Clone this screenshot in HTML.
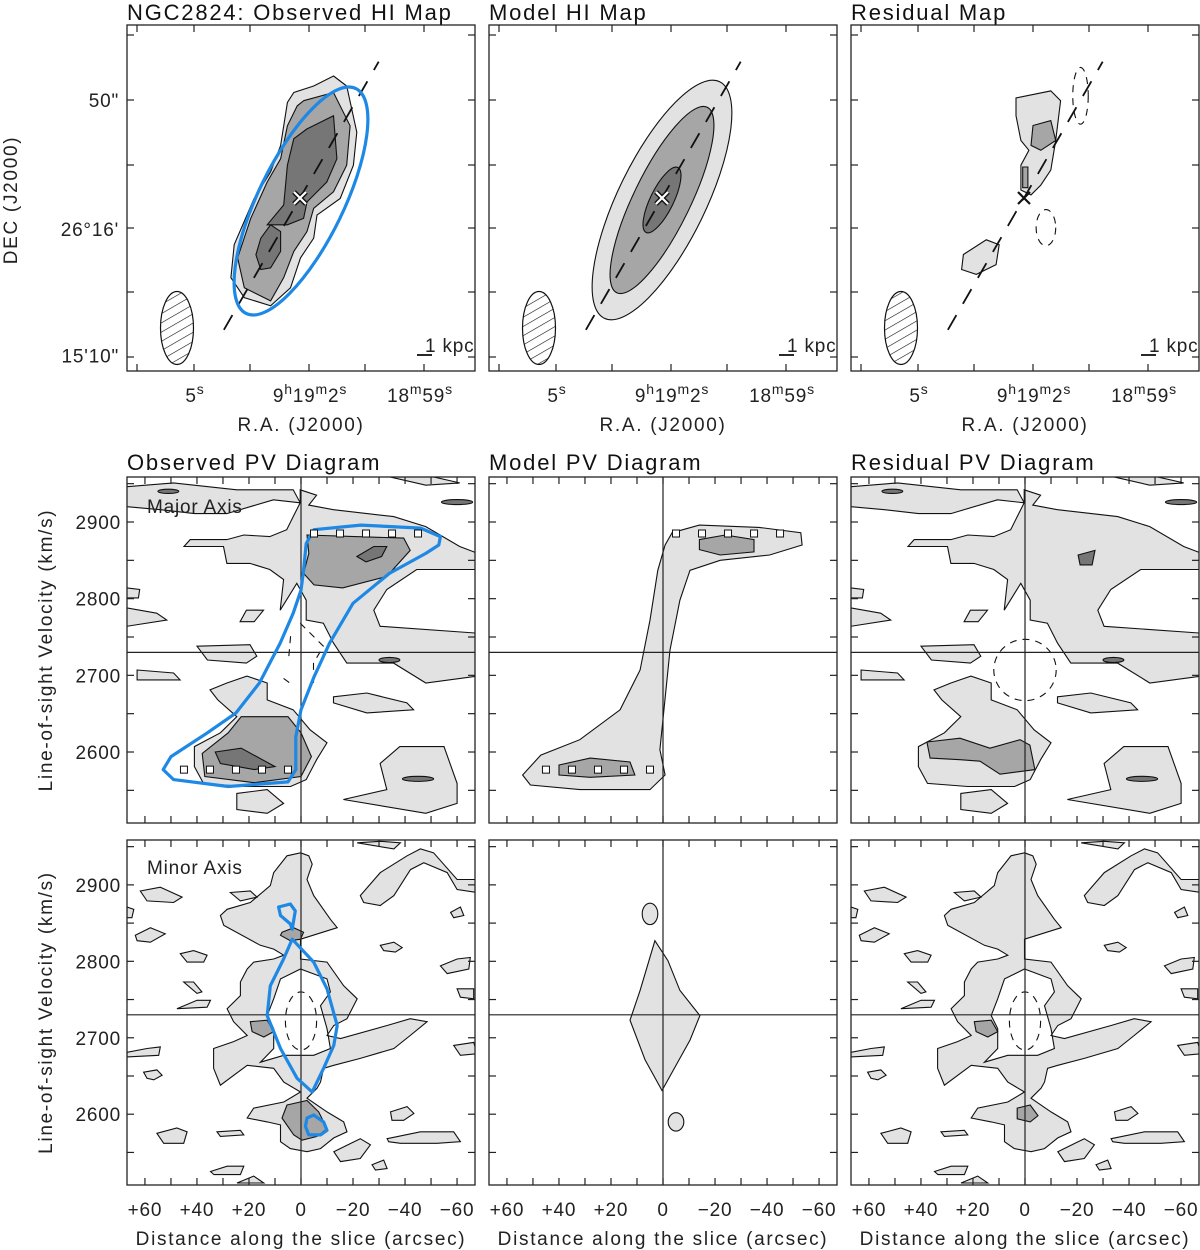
<!DOCTYPE html>
<html><head><meta charset="utf-8">
<style>
html,body{margin:0;padding:0;background:#fff;}
svg{display:block;font-family:"Liberation Sans",sans-serif;}
.t{font-size:22px;fill:#111;letter-spacing:1.8px;}
.tk{font-size:19px;fill:#222;letter-spacing:0.8px;}
.lab{font-size:19px;fill:#222;letter-spacing:1.7px;}
.c1{fill:#e2e2e2;stroke:#111;stroke-width:1.1;}
.c2{fill:#a6a6a6;stroke:#111;stroke-width:1.1;}
.c3{fill:#767676;stroke:#111;stroke-width:1.1;}
.neg{fill:none;stroke:#111;stroke-width:1.1;stroke-dasharray:7 6;}
.blue{fill:none;stroke:#1e88e5;stroke-width:3.2;stroke-linejoin:round;}
</style></head>
<body>
<svg id="fig" width="1200" height="1250" viewBox="0 0 1200 1250" xmlns="http://www.w3.org/2000/svg">
<defs>
<pattern id="hatch" width="8" height="8" patternUnits="userSpaceOnUse" patternTransform="rotate(-30)">
<line x1="0" y1="0" x2="8" y2="0" stroke="#111" stroke-width="1.2"/></pattern>
</defs>
</svg>
<script>
// ---------- axis data ----------
const pvTickLabels = ["+60","+40","+20","0","\u221220","\u221240","\u221260"];
const pvTickValues = [60,40,20,0,-20,-40,-60];
const velTickValues = [2600,2700,2800,2900];
const vSys = 2730;
const pvDistRange = [66.9,-66.9];
const pvVelRange = [2958.7,2507.4];
const mapTitles = ["NGC2824: Observed HI Map","Model HI Map","Residual Map"];
const pvTitles = ["Observed PV Diagram","Model PV Diagram","Residual PV Diagram"];
const decTickLabels = ["50\"","26\u00b016'","15'10\""];
const decTickValues = [38,-12,-61];

// ---------- major-axis PV contours [dist arcsec, vel km/s] ----------
const majLight = [
 [[0.3,2942],[-6,2935],[-3,2922],[-12.5,2916],[-35.6,2907],[-48,2894],[-61,2868],[-68,2859],[-68,2838],[-44.5,2838],[-33,2812],[-28,2785],[-30.4,2764],[-68,2755],[-68,2699],[-48,2690],[-35.6,2716],[-17.6,2716],[-12.5,2742],[-8.6,2768],[-2,2772],[-2,2798],[1.6,2820],[8,2785],[6.7,2825],[12,2838],[19.6,2846],[28.5,2846],[29.8,2868],[45,2868],[42.6,2877],[28.5,2877],[22,2883],[12,2881],[5.5,2890],[3,2907],[0.3,2925]],
 [[67,2946],[49,2951],[24.7,2942],[3,2942],[0.3,2925],[10.6,2929],[28.5,2911],[41,2911],[54,2916],[67,2920]],
 [[28.5,2690],[20.8,2699],[13,2690],[13,2668],[3,2655],[-3.5,2629],[-10,2612],[-6,2590],[-2,2564],[4,2555],[22,2555],[37.5,2559],[41,2581],[41,2607],[31,2625],[24.7,2646],[32,2668],[35,2681]],
 [[-12.5,2672],[-25.3,2677],[-40.7,2664],[-43.3,2655],[-25.3,2651],[-12.5,2664]],
 [[40,2738],[19.6,2740],[17,2725],[21,2716],[36,2720]],
 [[67,2788],[55.5,2781],[51.6,2772],[67,2764]],
 [[63,2707],[49,2703],[46.5,2694],[63,2694]],
 [[-38,2607],[-55,2607],[-60,2559],[-60,2533],[-48,2520],[-16.3,2538],[-33,2551],[-30.4,2585]],
 [[24.7,2546],[13,2551],[6.7,2533],[13,2520],[24.7,2525]],
 [[21,2785],[14.4,2785],[18,2770],[23.4,2770]],
 [[67,2814],[62,2812],[62.5,2801],[67,2801]],
 [[-34,2959],[-48,2961],[-61,2951],[-48,2948]]
];
const majObsMid = [
 [[-2.3,2883],[-39.5,2879],[-42,2863],[-33,2829],[-16,2814],[-5,2818],[-1,2833],[-3,2859]],
 [[23,2646],[5,2646],[0,2625],[-4,2594],[0,2568],[18,2560],[37,2568],[38,2598],[28,2625]]
];
const majObsDark = [
 [[-21.5,2855],[-28,2868],[-33,2868],[-31,2855],[-25,2848]],
 [[33,2600],[23,2605],[10,2581],[18,2577],[31,2585]]
];
const majObsSmallDark = [[-60,2926,6,2],[-45,2565,6,2],[-34,2720,4,2],[51,2940,4,1.5]];
const majObsNeg = [
 [[0.3,2768],[-8.6,2738],[-4.8,2716],[-4.8,2690]],
 [[4,2751],[4.8,2720]],
 [[6.7,2696],[3.5,2688]]
];
const majObsModel = [[-53.6,2881],[-46,2892],[-23,2896],[-5,2890],[-2,2872],[-1,2837],[0,2811],[3,2781],[8,2742],[16,2690],[25,2651],[36,2625],[50,2594],[53,2577],[49,2564],[28,2555],[5,2561],[2,2577],[2,2620],[0,2655],[-5,2698],[-11,2742],[-20,2794],[-34,2833],[-48,2859],[-53,2870]];
const rotDist = [-5,-15,-25,-35,-45,45,35,25,15,5];
const rotVel = [2885,2885,2885,2885,2885,2577,2577,2577,2577,2577];
const majModelLight = [[-3.5,2886],[-14,2896],[-37,2893],[-53,2886],[-53.5,2870],[-41,2857],[-22,2850],[-10.4,2837],[-6.5,2798],[-2.7,2733],[1.2,2603],[-0.8,2570],[5,2551],[32,2551],[51,2557],[54,2570],[47,2596],[32,2616],[16.5,2655],[8.8,2707],[5,2772],[2,2837],[-0.8,2870]];
const majModelMid = [
 [[-14,2877],[-24,2883],[-35,2877],[-35,2861],[-22,2857],[-14,2864]],
 [[40,2583],[28,2592],[12.7,2587],[10.8,2570],[28,2567],[40,2570]]
];
const majResMid = [[[37.7,2613],[25,2618],[13.5,2605],[1.9,2616],[-1.9,2609],[-3.8,2577],[9.6,2571],[17.3,2588],[25,2590],[36.5,2592]]];
const majResDark = [[[-20.4,2857],[-26.9,2863],[-25.8,2844],[-21.2,2844]]];
const majResNeg = [0,2707,12,40];

// ---------- minor-axis PV contours ----------
const minLight = [
 [[0.2,2942],[-3,2938],[-4.3,2927],[-2.3,2907],[-4.9,2886],[-11.3,2855],[-13.9,2844],[0.2,2829],[0.2,2803],[-10,2799],[-16.4,2768],[-21.6,2751],[-17.7,2725],[-12.6,2716],[-10,2703],[-15.2,2699],[-33.1,2716],[-42,2725],[-48.5,2721],[-42,2703],[-35.7,2686],[-22.8,2673],[-12.6,2664],[-8.7,2660],[-7.5,2642],[-6.2,2634],[-2.3,2621],[-10,2603],[-16.4,2590],[-17.7,2577],[-12.6,2569],[-7.5,2555],[-2.3,2551],[4.1,2555],[7.9,2564],[7.9,2586],[13,2590],[20.7,2595],[18.2,2608],[6.6,2616],[0.2,2629],[6.6,2642],[10.5,2660],[20.7,2664],[31,2638],[33.6,2660],[33.6,2686],[25.9,2695],[20.7,2703],[25.9,2721],[28.4,2738],[23.3,2755],[23.3,2773],[20.7,2790],[18.2,2799],[10.5,2803],[6.6,2808],[10.5,2816],[15.6,2821],[29.7,2847],[31,2860],[28.4,2868],[19.5,2877],[11.8,2899],[10.5,2916],[5.4,2938]],
 [[61.8,2892],[54.1,2897],[45.7,2884],[49,2877],[59.2,2879]],
 [[27.2,2890],[19.5,2892],[16.9,2884],[23.3,2879]],
 [[63.7,2834],[57.9,2844],[52.2,2836],[57.9,2825],[63,2827]],
 [[46.4,2810],[41.3,2814],[36.1,2808],[37.4,2799],[43.8,2799]],
 [[45.1,2773],[41.3,2773],[38.1,2760],[40,2758]],
 [[47.7,2738],[40,2749],[34.8,2749],[36.1,2740]],
 [[66.9,2681],[59.2,2686],[54.1,2688],[54.7,2677],[66.9,2675]],
 [[60.5,2655],[55.4,2658],[53.4,2651],[56.6,2645],[59.2,2647]],
 [[55.4,2575],[47.7,2582],[43.8,2577],[45.1,2562],[52.8,2562]],
 [[32.3,2577],[23.3,2579],[22,2573],[31,2571]],
 [[34.8,2525],[28.4,2532],[22,2532],[23.3,2521],[33.5,2521]],
 [[-12.6,2551],[-22.8,2568],[-26.7,2560],[-22.8,2542],[-15.2,2538]],
 [[-34.4,2603],[-40.8,2610],[-43.4,2601],[-39.5,2592],[-35,2592]],
 [[-33.1,2568],[-45.9,2577],[-58.7,2577],[-61.3,2564],[-52.3,2562],[-38.2,2562],[-33.7,2564]],
 [[-27.3,2534],[-31.8,2540],[-33.1,2529],[-28.6,2527]],
 [[-53.6,2794],[-60,2803],[-65.1,2805],[-64.5,2790],[-56.2,2784]],
 [[-30.5,2821],[-35.7,2825],[-38.9,2818],[-36.3,2812],[-31.8,2814]],
 [[-57.5,2864],[-61.3,2871],[-62.6,2860],[-58.7,2857]],
 [[-22.8,2886],[-30.5,2916],[-40.8,2938],[-45.9,2947],[-51,2942],[-60,2907],[-67.7,2907],[-67.7,2890],[-60,2894],[-56.2,2916],[-47.2,2929],[-42.1,2920],[-35.7,2886],[-30.5,2873],[-24.1,2877]],
 [[-21.6,2955],[-30.5,2957],[-38.2,2955],[-35.7,2947]],
 [[66.9,2871],[64.3,2868],[65,2857],[66.9,2857]],
 [[-58.7,2690],[-66.4,2694],[-67.7,2679],[-61.3,2677]],
 [[-60,2764],[-66.4,2764],[-66.4,2751],[-61.3,2753]],
 [[24.6,2510],[18.2,2519],[14.3,2510]]
];
const minHole = [[10.5,2751],[7.9,2777],[0.2,2790],[-10,2777],[-11.3,2760],[-7.5,2742],[-10,2712],[-11.3,2686],[-4.9,2677],[6.6,2677],[15.6,2668],[10.5,2686],[10.5,2712],[13,2729]];
const minObsMid = [
 [[7.3,2838],[2.8,2844],[-1,2838],[0.2,2829],[4.1,2827],[7.9,2834]],
 [[19.5,2721],[13,2723],[10.5,2708],[14.3,2701],[18.8,2708]],
 [[5.4,2612],[-2.3,2618],[-6.8,2603],[-10,2581],[-6.2,2571],[-0.4,2566],[2.8,2573],[7.3,2595]]
];
const minResMid = [
 [[19.5,2721],[13,2723],[10.5,2708],[14.3,2701],[18.8,2708]],
 [[3,2608],[-2,2612],[-5,2598],[-2,2590],[3,2594]]
];
const minModelMain = [[3.1,2827],[8.8,2762],[12.7,2723],[6.9,2671],[0.4,2631],[-10.4,2697],[-14.2,2729],[-6.5,2762],[-1.9,2801]];
const minModelSmall = [[5,2862,3,14],[-5,2590,3,12]];
const minObsModel = [[3.4,2829],[-4.9,2799],[-10,2764],[-13.9,2716],[-12.6,2690],[-8.7,2660],[-4.3,2629],[1.5,2647],[7.9,2686],[13,2729],[11.8,2768],[6.7,2803]];
const minObsModelTop = [[8.6,2871],[4.1,2875],[2.2,2866],[3.4,2842],[4.1,2849],[7.9,2860]];
const minObsModelBot = [[-2.3,2595],[-4.9,2599],[-8.7,2590],[-10,2579],[-7.5,2573],[-3,2573],[-1.7,2584]];
const minNeg = [0,2722,6,38];

// ---------- moment-map contours [dRA arcsec (E+), dDec arcsec] ----------
const obsMap1 = [[-13,47.3],[-18.1,43.4],[-22,25.5],[-20.7,12.7],[-15.6,-0.2],[-6.6,-6.6],[-5.3,-15.6],[-0.2,-23.2],[3.7,-34.8],[11.4,-41.8],[21.6,-38.6],[26.8,-30.9],[25.5,-18.1],[17.8,-0.2],[11.4,10.1],[7.5,20.3],[4.9,37],[2.4,40.9],[-5.3,43.4]];
const obsMap2 = [[-1.4,37.7],[-13,40.9],[-19.4,28],[-18.1,12.7],[-13,2.4],[-5.3,-4],[-2.7,-13],[2.4,-20.7],[6.3,-30.9],[11.4,-39.9],[21.6,-34.8],[24.2,-23.2],[19.1,-7.9],[12.7,6.2],[7.5,15.2],[4.9,28],[1.1,35.7]];
const obsMap3 = [
 [[-2.7,26.8],[-13,31.9],[-14.3,15.2],[-10.4,6.2],[-2.7,-1.5],[-1.4,-7.9],[4.9,-10.4],[12.7,-10.4],[6.3,-2.7],[4.9,12.7],[2.4,23]],
 [[11.4,-10.4],[7.5,-13],[7.5,-20.7],[11.4,-27.1],[15.2,-27.7],[17.1,-22],[15.2,-15.6]]
];
const modelEllipses = [[51,17,"c1"],[40,11,"c2"],[14,4.5,"c3"]];
const tiltedRing = [48.5,16.5];
const ellipsePA = -64;
const axisPA = -60;
const resMapLight = [
 [[3.1,38.8],[-10.4,41.5],[-14.2,37.7],[-12.3,22.3],[-10.4,10.8],[-6.5,5],[-2.7,1.2],[1.2,3.1],[1.2,12.7],[-1.9,18.5],[1.2,22.3],[3.1,31.9]],
 [[23.5,-21.9],[14.6,-16.2],[9.6,-18.1],[10.8,-25.8],[18.5,-29.6],[24.2,-27.7]]
];
const resMapMid = [[[-3.5,28.1],[-10.4,30],[-12.3,22.3],[-6.5,18.5],[-2.7,20.4]],[[0.5,12],[-1.5,12],[-1.5,4],[0.5,4]]];
const resMapNeg = [[-21.9,39.6,3,11],[-8.5,-11.5,3.8,7]];

// ---------- layout ----------
const NS="http://www.w3.org/2000/svg";
const svg=document.getElementById('fig');
const cols=[127,489,851], W=348;
const rows=[[25,371],[477,823],[840,1185]];
function mk(tag,attrs,parent){const e=document.createElementNS(NS,tag);for(const k in attrs)e.setAttribute(k,attrs[k]);(parent||svg).appendChild(e);return e;}
function txt(x,y,s,cls,anchor,parent){const e=mk('text',{x:x,y:y,class:cls,'text-anchor':anchor||'start'},parent);e.textContent=s;return e;}

function pvScale(col,row){
 const x0=cols[col],y0=rows[row][0],y1=rows[row][1];
 return {x:d=>x0+(pvDistRange[0]-d)/(pvDistRange[0]-pvDistRange[1])*W,
         y:v=>y0+(pvVelRange[0]-v)/(pvVelRange[0]-pvVelRange[1])*(y1-y0)};
}
function mapScale(col){
 const cx=cols[col]+173, cy=198, k=2.58;
 return {x:d=>cx-d*k,y:d=>cy-d*k,k:k,cx:cx,cy:cy};
}
function ptsStr(arr,s){return arr.map(p=>s.x(p[0]).toFixed(1)+','+s.y(p[1]).toFixed(1)).join(' ');}
function poly(g,arr,s,cls,name){const e=mk('polygon',{points:ptsStr(arr,s),class:cls},g);
 
 return e;}
function pline(g,arr,s,cls,name){const e=mk('polyline',{points:ptsStr(arr,s),class:cls},g);
 
 return e;}
function ell(g,cx,cy,rx,ry,cls,name,rot){const e=mk('ellipse',{cx:cx,cy:cy,rx:rx,ry:ry,class:cls},g);
 if(rot!==undefined)e.setAttribute('transform','rotate('+rot+' '+cx+' '+cy+')');
 
 return e;}

function panelGroup(col,row,name){
 const id='clip'+col+row;
 const cp=mk('clipPath',{id:id});mk('rect',{x:cols[col],y:rows[row][0],width:W,height:rows[row][1]-rows[row][0]},cp);
 const g=mk('g',{'clip-path':'url(#'+id+')'});
 
 
 return g;
}
function frame(col,row,name){
 const r=mk('rect',{x:cols[col],y:rows[row][0],width:W,height:rows[row][1]-rows[row][0],fill:'none',stroke:'#222','stroke-width':1.3});
 
 
}
function tick(x1,y1,x2,y2){mk('line',{x1:x1,y1:y1,x2:x2,y2:y2,stroke:'#222','stroke-width':1.2});}

// ---------- PV panels ----------
function pvAxes(col,row,showX){
 const s=pvScale(col,row),y0=rows[row][0],y1=rows[row][1],x0=cols[col];
 for(let d=60;d>=-60;d-=10){const x=s.x(d);tick(x,y0,x,y0+7);tick(x,y1,x,y1-7);}
 for(let v=2550;v<=2950;v+=50){const y=s.y(v);tick(x0,y,x0+7,y);tick(x0+W,y,x0+W-7,y);}
 if(showX){pvTickValues.forEach((d,i)=>{txt(s.x(d),1216,pvTickLabels[i],'tk','middle');});
   const t=txt(x0+W/2,1245,'Distance along the slice (arcsec)','lab','middle');
   
   }
 if(col===0){velTickValues.forEach(v=>{txt(x0-6,s.y(v)+7,String(v),'tk','end');});
   const cy=(y0+y1)/2;const t=txt(0,0,'Line-of-sight Velocity (km/s)','lab','middle');
   t.setAttribute('transform','translate(52,'+cy+') rotate(-90)');
   
   }
}
function crosshair(g,s,col,row){
 mk('line',{x1:s.x(0),y1:rows[row][0],x2:s.x(0),y2:rows[row][1],stroke:'#222','stroke-width':1.2},g);
 mk('line',{x1:cols[col],y1:s.y(vSys),x2:cols[col]+W,y2:s.y(vSys),stroke:'#222','stroke-width':1.2},g);
}
function negEll(g,s,p,name){const cx=s.x(p[0]),cy=s.y(p[1]);ell(g,cx,cy,Math.abs(s.x(p[2])-s.x(0)),Math.abs(s.y(p[1]+p[3])-cy),'neg',name);}
function smallDark(g,s,arr,name){arr.forEach(p=>{const cx=s.x(p[0]),cy=s.y(p[1]);ell(g,cx,cy,Math.abs(s.x(p[2])-s.x(0)),Math.abs(s.y(p[1]+p[3])-cy)+1,'c3',name);});}
function squares(g,s){rotDist.forEach((d,i)=>{const r=mk('rect',{x:s.x(d)-3.5,y:s.y(rotVel[i])-3.5,width:7,height:7,fill:'#fff',stroke:'#111','stroke-width':1},g);
 
 });}

// Row 1: major axis
(function(){
 let s=pvScale(0,1),g=panelGroup(0,1,'observed-major-pv');
 majLight.forEach(a=>poly(g,a,s,'c1','light-contour'));
 majObsMid.forEach(a=>poly(g,a,s,'c2','mid-contour'));
 majObsDark.forEach(a=>poly(g,a,s,'c3','dark-contour'));
 smallDark(g,s,majObsSmallDark,'small-dark-contour');
 majObsNeg.forEach(a=>pline(g,a,s,'neg','negative-contour'));
 crosshair(g,s,0,1);
 poly(g,majObsModel,s,'blue','model-overlay-contour');
 squares(g,s);
 txt(147,513,'Major Axis','tk','start',g);
 frame(0,1,'observed-major-frame');pvAxes(0,1,false);
 txt(127,470,pvTitles[0],'t');

 s=pvScale(1,1);g=panelGroup(1,1,'model-major-pv');
 poly(g,majModelLight,s,'c1','model-light-contour');
 majModelMid.forEach(a=>poly(g,a,s,'c2','model-mid-contour'));
 crosshair(g,s,1,1);squares(g,s);
 frame(1,1,'model-major-frame');pvAxes(1,1,false);
 txt(489,470,pvTitles[1],'t');

 s=pvScale(2,1);g=panelGroup(2,1,'residual-major-pv');
 majLight.forEach(a=>poly(g,a,s,'c1','light-contour'));
 majResMid.forEach(a=>poly(g,a,s,'c2','mid-contour'));
 majResDark.forEach(a=>poly(g,a,s,'c3','dark-contour'));
 smallDark(g,s,majObsSmallDark,'small-dark-contour');
 negEll(g,s,majResNeg,'negative-contour');
 crosshair(g,s,2,1);
 frame(2,1,'residual-major-frame');pvAxes(2,1,false);
 txt(851,470,pvTitles[2],'t');
})();

// Row 2: minor axis
function minorBase(g,s,mids){
 const path=mk('path',{d:'M'+ptsStr(minLight[0],s).split(' ').join(' L')+' Z M'+ptsStr(minHole,s).split(' ').join(' L')+' Z',class:'c1','fill-rule':'evenodd'},g);
 
 
 minLight.slice(1).forEach(a=>poly(g,a,s,'c1','light-contour'));
 mids.forEach(a=>poly(g,a,s,'c2','mid-contour'));
 negEll(g,s,minNeg,'negative-contour');
}
(function(){
 let s=pvScale(0,2),g=panelGroup(0,2,'observed-minor-pv');
 minorBase(g,s,minObsMid);
 crosshair(g,s,0,2);
 poly(g,minObsModel,s,'blue','model-overlay-contour');
 poly(g,minObsModelTop,s,'blue','model-overlay-contour');
 poly(g,minObsModelBot,s,'blue','model-overlay-contour');
 txt(147,874,'Minor Axis','tk','start',g);
 frame(0,2,'observed-minor-frame');pvAxes(0,2,true);

 s=pvScale(1,2);g=panelGroup(1,2,'model-minor-pv');
 poly(g,minModelMain,s,'c1','model-light-contour');
 minModelSmall.forEach(p=>{const cx=s.x(p[0]),cy=s.y(p[1]);ell(g,cx,cy,Math.abs(s.x(p[2])-s.x(0)),Math.abs(s.y(p[1]+p[3])-cy),'c1','model-small-contour');});
 crosshair(g,s,1,2);
 frame(1,2,'model-minor-frame');pvAxes(1,2,true);

 s=pvScale(2,2);g=panelGroup(2,2,'residual-minor-pv');
 minorBase(g,s,minResMid);
 crosshair(g,s,2,2);
 frame(2,2,'residual-minor-frame');pvAxes(2,2,true);
})();

// ---------- map panels ----------
function mapAxes(col){
 const x0=cols[col],y0=rows[0][0],y1=rows[0][1];
 [137,194,250,309,365,424].forEach(dx=>{const x=x0+dx-127;tick(x,y0,x,y0+7);tick(x,y1,x,y1-7);});
 [35,100,165,228,292,357].forEach(y=>{tick(x0,y,x0+7,y);tick(x0+W,y,x0+W-7,y);});
 const ra=[[195,'5','s'],[310,'9','h','19','m','2','s'],[420,'18','m','59','s']];
 ra.forEach(r=>{const t=mk('text',{x:x0+r[0]-127,y:402,class:'tk','text-anchor':'middle'});
  for(let i=1;i<r.length;i++){const sp=mk('tspan',{},t);sp.textContent=r[i];
   if(i%2===0){sp.setAttribute('baseline-shift','super');sp.setAttribute('font-size','14');}}});
 const t=txt(x0+174,431,'R.A. (J2000)','lab','middle');
 
 
 if(col===0){const ms=mapScale(0);decTickValues.forEach((d,i)=>txt(x0-8,ms.y(d)+7,decTickLabels[i],'tk','end'));
  const tt=txt(0,0,'DEC (J2000)','lab','middle');tt.setAttribute('transform','translate(17,200) rotate(-90)');
  
  }
 txt(x0,20,mapTitles[col],'t');
 const b=mk('ellipse',{cx:x0+50,cy:328,rx:16.5,ry:36.5,fill:'url(#hatch)',stroke:'#111','stroke-width':1.2});
 
 
 txt(x0+298,352,'1 kpc','tk').setAttribute('font-size','13');
 mk('line',{x1:x0+290,y1:355,x2:x0+305,y2:355,stroke:'#111','stroke-width':1.8});
}
function majorAxisLine(g,ms){
 const a=axisPA*Math.PI/180;
 const l=mk('line',{x1:ms.cx-Math.cos(a)*59*ms.k,y1:ms.cy-Math.sin(a)*59*ms.k,x2:ms.cx+Math.cos(a)*61*ms.k,y2:ms.cy+Math.sin(a)*61*ms.k,stroke:'#111','stroke-width':1.8,'stroke-dasharray':'17 13'},g);
 
 
}
function centerX(g,ms,white){
 const c=white?'#fff':'#111';
 if(white){mk('path',{d:`M${ms.cx-6} ${ms.cy-6}L${ms.cx+6} ${ms.cy+6}M${ms.cx-6} ${ms.cy+6}L${ms.cx+6} ${ms.cy-6}`,stroke:'#111','stroke-width':5},g);}
 const p=mk('path',{d:`M${ms.cx-6} ${ms.cy-6}L${ms.cx+6} ${ms.cy+6}M${ms.cx-6} ${ms.cy+6}L${ms.cx+6} ${ms.cy-6}`,stroke:c,'stroke-width':2.2},g);
 
 
}
(function(){
 let ms=mapScale(0),g=panelGroup(0,0,'observed-hi-map');
 poly(g,obsMap1,ms,'c1','map-contour-1');
 poly(g,obsMap2,ms,'c2','map-contour-2');
 obsMap3.forEach(a=>poly(g,a,ms,'c3','map-contour-3'));
 majorAxisLine(g,ms);centerX(g,ms,true);
 ell(g,ms.cx+1,ms.cy+3,tiltedRing[0]*ms.k,tiltedRing[1]*ms.k,'blue','model-overlay-contour',ellipsePA);
 frame(0,0,'observed-map-frame');mapAxes(0);

 ms=mapScale(1);g=panelGroup(1,0,'model-hi-map');
 modelEllipses.forEach(e=>ell(g,ms.cx,ms.cy+2,e[0]*ms.k,e[1]*ms.k,e[2],'model-map-contour',ellipsePA));
 majorAxisLine(g,ms);centerX(g,ms,true);
 frame(1,0,'model-map-frame');mapAxes(1);

 ms=mapScale(2);g=panelGroup(2,0,'residual-map');
 resMapLight.forEach(a=>poly(g,a,ms,'c1','residual-map-contour'));
 resMapMid.forEach(a=>poly(g,a,ms,'c2','residual-map-mid-contour'));
 resMapNeg.forEach(p=>ell(g,ms.x(p[0]),ms.y(p[1]),p[2]*ms.k,p[3]*ms.k,'neg','residual-negative-contour'));
 majorAxisLine(g,ms);centerX(g,ms,false);
 frame(2,0,'residual-map-frame');mapAxes(2);
})();
</script>
</body></html>
